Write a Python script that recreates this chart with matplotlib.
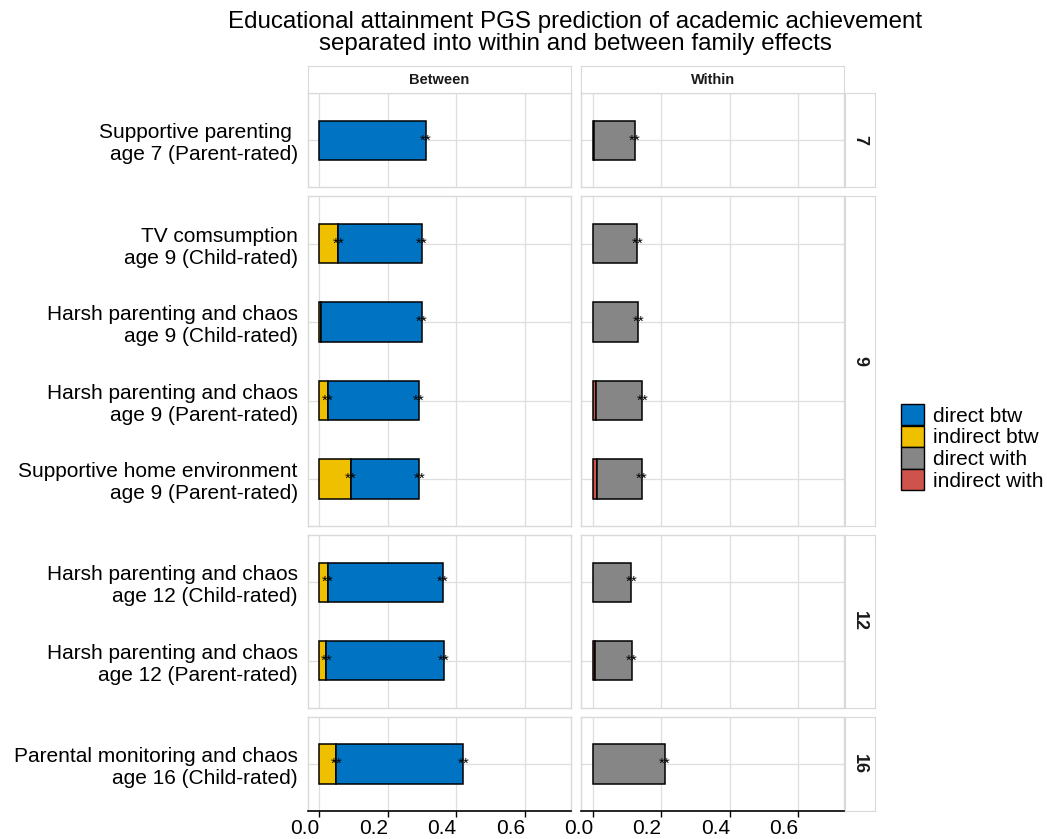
import matplotlib.pyplot as plt
from matplotlib.patches import Patch

# chart values, top to bottom
labels = [
    "Supportive parenting \nage 7 (Parent-rated)",
    "TV comsumption\nage 9 (Child-rated)",
    "Harsh parenting and chaos\nage 9 (Child-rated)",
    "Harsh parenting and chaos\nage 9 (Parent-rated)",
    "Supportive home environment\nage 9 (Parent-rated)",
    "Harsh parenting and chaos\nage 12 (Child-rated)",
    "Harsh parenting and chaos\nage 12 (Parent-rated)",
    "Parental monitoring and chaos\nage 16 (Child-rated)",
]
ages = [7, 9, 9, 9, 9, 12, 12, 16]
facet_rows = [7, 9, 12, 16]
facet_cols = ["Between", "Within"]

indirect_btw = [0.0, 0.055, 0.004, 0.024, 0.092, 0.024, 0.020, 0.049]
direct_btw = [0.311, 0.245, 0.295, 0.266, 0.200, 0.336, 0.344, 0.371]
indirect_with = [0.004, 0.0, 0.0, 0.010, 0.012, 0.0, 0.006, 0.0]
direct_with = [0.119, 0.130, 0.133, 0.134, 0.131, 0.112, 0.107, 0.210]

# significance stars
star_ind_btw = [False, True, False, True, True, True, True, True]
star_dir_btw = [True] * 8
star_ind_with = [False] * 8
star_dir_with = [True] * 8

x_ticks = [0.0, 0.2, 0.4, 0.6]
x_ticklabels = ["0.0", "0.2", "0.4", "0.6"]

legend_labels = ["direct btw", "indirect btw", "direct with", "indirect with"]
legend_colors = ["#0073C2", "#EFC000", "#868686", "#CD534C"]

plt.rcParams['font.family'] = ['Liberation Sans', 'DejaVu Sans']

W, H = 1047, 839
fig = plt.figure(figsize=(W / 100, H / 100), dpi=100)


def box(x0, y0, x1, y1):
    return [x0 / W, 1 - y1 / H, (x1 - x0) / W, (y1 - y0) / H]


border = "#D9D9D9"
grid = "#DEDEDE"
col_x = [(307.5, 571.0), (581.0, 844.5)]
strip_x = (844.5, 874.5)
unit, gap, top = 78.5, 9.0, 93.2

series = {
    "Between": (indirect_btw, direct_btw, star_ind_btw, star_dir_btw, "#EFC000", "#0073C2"),
    "Within": (indirect_with, direct_with, star_ind_with, star_dir_with, "#CD534C", "#868686"),
}

y = top
for r, age in enumerate(facet_rows):
    idx = [i for i, a in enumerate(ages) if a == age]
    n = len(idx)
    h = (n + 0.2) * unit
    pos = list(range(1, n + 1))
    last = r == len(facet_rows) - 1
    for c, name in enumerate(facet_cols):
        ind, dire, s_ind, s_dir, c_ind, c_dir = series[name]
        ax = fig.add_axes(box(col_x[c][0], y, col_x[c][1], y + h))
        for p, i in zip(pos, idx):
            if ind[i] > 0:
                ax.barh(p, ind[i], left=0, height=0.5, color=c_ind,
                        edgecolor="black", linewidth=1.1, zorder=2)
            ax.barh(p, dire[i], left=ind[i], height=0.5, color=c_dir,
                    edgecolor="black", linewidth=1.1, zorder=2)
            if s_ind[i]:
                ax.text(ind[i], p, "**", ha="center", va="center", fontsize=11, zorder=3)
            if s_dir[i]:
                ax.text(ind[i] + dire[i], p, "**", ha="center", va="center", fontsize=11, zorder=3)
        ax.set_xlim(-0.035, 0.735)
        ax.set_ylim(n + 0.6, 0.4)
        ax.set_xticks(x_ticks)
        ax.set_yticks(pos)
        ax.grid(True, color=grid, linewidth=0.9)
        ax.set_axisbelow(True)
        for sp in ax.spines.values():
            sp.set_color(border)
            sp.set_linewidth(1.0)
        if c == 0:
            ax.set_yticklabels([labels[i] for i in idx], fontsize=15,
                               linespacing=1.2)
            ax.tick_params(axis="y", length=0, pad=7)
        else:
            ax.set_yticklabels([])
            ax.tick_params(axis="y", length=0)
        if last:
            ax.spines["bottom"].set_color("black")
            ax.spines["bottom"].set_linewidth(1.2)
            ax.set_xticklabels(x_ticklabels, fontsize=15, ha="right")
            ax.tick_params(axis="x", length=4, width=1, color="black", pad=2)
        else:
            ax.set_xticklabels([])
            ax.tick_params(axis="x", length=0)

        # top strips
        if r == 0:
            sax = fig.add_axes(box(col_x[c][0], 66, col_x[c][1], y))
            sax.set_xticks([])
            sax.set_yticks([])
            for sp in sax.spines.values():
                sp.set_color(border)
            sax.text(0.5, 0.5, name, ha="center", va="center",
                     fontsize=10.5, fontweight="bold", color="#1A1A1A")

    # right strip
    rax = fig.add_axes(box(strip_x[0], y, strip_x[1], y + h))
    rax.set_xticks([])
    rax.set_yticks([])
    for sp in rax.spines.values():
        sp.set_color(border)
    rax.text(0.5, 0.5, str(age), ha="center", va="center", rotation=270,
             fontsize=13, fontweight="bold", color="#1A1A1A")
    y += h + gap

fig.text(575 / W, 1 - 33 / H,
         "Educational attainment PGS prediction of academic achievement\n"
         "separated into within and between family effects",
         ha="center", va="center", fontsize=17.4, linespacing=1.05)

handles = [Patch(facecolor=col, edgecolor="black", linewidth=1.0) for col in legend_colors]
fig.legend(handles, legend_labels, loc="upper left",
           bbox_to_anchor=(900.7 / W, 1 - 404 / H), frameon=False,
           fontsize=15, handlelength=1.13, handleheight=1.2,
           handletextpad=0.42, labelspacing=0.0, borderpad=0, borderaxespad=0)

fig.savefig("out.png", dpi=100)
